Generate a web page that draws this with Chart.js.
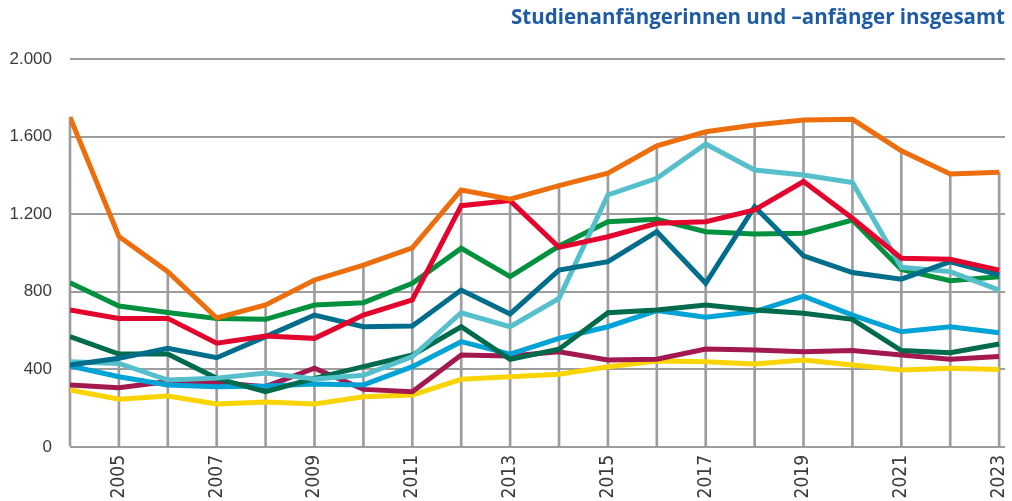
<!DOCTYPE html>
<html lang="de">
<head>
<meta charset="utf-8">
<title>Studienanfängerinnen und -anfänger insgesamt</title>
<script src="https://cdn.jsdelivr.net/npm/chart.js@4/dist/chart.umd.min.js"></script>
<style>
  html, body { margin: 0; padding: 0; background: #ffffff; }
  #wrap { width: 1012px; height: 501px; }
</style>
</head>
<body>
<div id="wrap"><canvas id="chart" width="1012" height="501"></canvas></div>
<script>
// Data
const years = [2004, 2005, 2006, 2007, 2008, 2009, 2010, 2011, 2012, 2013,
  2014, 2015, 2016, 2017, 2018, 2019, 2020, 2021, 2022, 2023];
const tickYears = [2005, 2007, 2009, 2011, 2013, 2015, 2017, 2019, 2021, 2023];
const yTicks = [0, 400, 800, 1200, 1600, 2000];

const orange = [1700, 1085, 904, 665, 732, 861, 938, 1026, 1325, 1277, 1347, 1411, 1552, 1625, 1660, 1686, 1689, 1527, 1407, 1416];
const cyan = [440, 431, 345, 355, 381, 350, 370, 466, 692, 620, 766, 1299, 1385, 1562, 1428, 1402, 1363, 926, 904, 809];
const red = [706, 663, 663, 535, 572, 560, 680, 758, 1244, 1270, 1029, 1084, 1153, 1161, 1222, 1368, 1179, 973, 968, 912];
const green = [847, 727, 693, 663, 658, 732, 744, 844, 1024, 878, 1036, 1161, 1174, 1110, 1098, 1102, 1170, 915, 857, 878];
const teal = [423, 457, 509, 460, 569, 680, 620, 624, 809, 686, 912, 955, 1110, 844, 1239, 985, 899, 865, 955, 887];
const darkGreen = [569, 479, 479, 354, 285, 354, 414, 474, 620, 452, 504, 692, 706, 732, 706, 689, 658, 497, 486, 531];
const lightBlue = [418, 362, 320, 311, 314, 325, 320, 414, 543, 479, 560, 620, 703, 669, 698, 778, 680, 594, 620, 589];
const purple = [320, 306, 337, 332, 311, 406, 297, 285, 474, 469, 491, 448, 452, 505, 500, 491, 497, 474, 452, 466];
const yellow = [294, 246, 263, 222, 232, 222, 259, 268, 349, 362, 375, 414, 443, 440, 428, 448, 423, 397, 406, 400];

const GRID = '#9d9d9d';
const TEXT = '#3a3a3a';

const seriesList = [
  { data: orange, color: '#ec6e0c' },
  { data: red, color: '#e3032d' },
  { data: teal, color: '#006e8a' },
  { data: cyan, color: '#55bfcb' },
  { data: green, color: '#00913f' },
  { data: darkGreen, color: '#006a4d' },
  { data: lightBlue, color: '#00a3d6' },
  { data: purple, color: '#a2184f' },
  { data: yellow, color: '#fad400' }
];

// vertical drop lines go up to the highest series at each year
const dropTop = years.map((y, i) => Math.max(...seriesList.map((s) => s.data[i])));

function germanNumber(v) {
  return String(v).replace(/\B(?=(\d{3})+(?!\d))/g, '.');
}

const datasets = seriesList.map((s, i) => ({
  type: 'line',
  data: years.map((y, j) => ({ x: y, y: s.data[j] })),
  borderColor: s.color,
  backgroundColor: s.color,
  borderWidth: 5,
  pointRadius: 0,
  tension: 0,
  fill: false,
  order: i
}));

datasets.push({
  type: 'bar',
  data: years.map((y, j) => ({ x: y, y: dropTop[j] })),
  backgroundColor: GRID,
  barThickness: 2,
  clip: false,
  order: 100
});

new Chart(document.getElementById('chart'), {
  type: 'line',
  data: { datasets },
  options: {
    responsive: false,
    animation: false,
    layout: { padding: { left: 0, right: 7, top: 0, bottom: 0 } },
    plugins: {
      legend: { display: false },
      tooltip: { enabled: false },
      title: {
        display: true,
        text: 'Studienanfängerinnen und –anfänger insgesamt',
        align: 'end',
        color: '#1f5ba3',
        font: { family: "'Open Sans', sans-serif", size: 20.5, weight: 'bold', lineHeight: 1.2 },
        padding: { top: 6, bottom: 28.4 }
      }
    },
    scales: {
      x: {
        type: 'linear',
        offset: false,
        min: 2004,
        max: 2023.12,
        afterBuildTicks: (scale) => {
          scale.ticks = tickYears.map((v) => ({ value: v }));
        },
        afterFit: (scale) => {
          scale.height = 54;
          scale.paddingLeft = 0;
          scale.paddingRight = 0;
        },
        border: { display: false },
        grid: { display: false, drawTicks: false },
        ticks: {
          autoSkip: false,
          minRotation: 90,
          maxRotation: 90,
          padding: 8,
          color: TEXT,
          font: { family: "'Liberation Sans Narrow', 'DejaVu Sans Condensed', sans-serif", size: 19 },
          callback: (v) => String(v)
        }
      },
      y: {
        min: 0,
        max: 2000,
        afterBuildTicks: (scale) => {
          scale.ticks = yTicks.map((v) => ({ value: v }));
        },
        afterFit: (scale) => { scale.width = 70; },
        border: { display: false },
        grid: { color: GRID, lineWidth: 2, drawTicks: false },
        ticks: {
          padding: 18,
          color: TEXT,
          font: { family: "'Liberation Sans', Arial, sans-serif", size: 17 },
          callback: (v) => germanNumber(v)
        }
      }
    }
  }
});
</script>
</body>
</html>
